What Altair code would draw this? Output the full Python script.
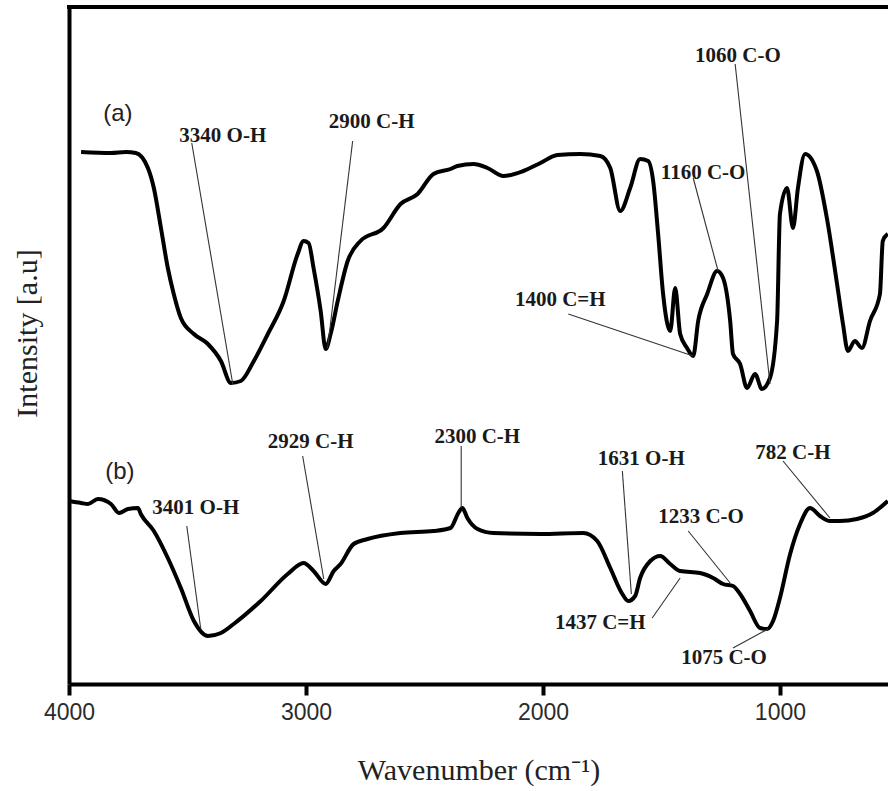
import altair as alt
import pandas as pd

# ---- spectrum (a) ----
wn_a = [3949, 3823, 3760, 3718, 3667, 3642, 3612, 3583, 3558, 3528, 3473, 3414, 3359, 3317,
        3275, 3220, 3161, 3094, 3035, 3010, 2989, 2968, 2938, 2917, 2896, 2866, 2824, 2770,
        2673, 2601, 2529, 2462, 2390, 2361, 2293, 2234, 2167, 2083, 2011, 1939, 1842, 1758,
        1716, 1674, 1632, 1590, 1556, 1535, 1514, 1493, 1463, 1442, 1421, 1392, 1366, 1345,
        1307, 1265, 1240, 1210, 1198, 1168, 1139, 1105, 1076, 1042, 1012, 1000, 970, 945,
        924, 894, 844, 802, 759, 734, 713, 684, 654, 620, 578, 566, 545]
int_a = [532, 531, 532, 531, 516, 496, 456, 416, 390, 366, 350, 340, 323, 301,
         303, 323, 350, 383, 430, 443, 441, 416, 373, 335, 350, 383, 423, 443,
         456, 480, 490, 510, 515, 518, 520, 516, 508, 513, 521, 529, 530, 528,
         516, 473, 496, 525, 523, 503, 450, 390, 353, 396, 350, 336, 328, 363,
         390, 413, 406, 363, 330, 320, 296, 310, 295, 306, 363, 470, 496, 456,
         496, 530, 513, 466, 400, 360, 333, 343, 336, 363, 390, 443, 450]

# ---- spectrum (b) ----
wn_b = [4000, 3949, 3920, 3878, 3823, 3789, 3751, 3709, 3697, 3642, 3583, 3528, 3473, 3414,
        3359, 3305, 3191, 3077, 3010, 2968, 2917, 2883, 2854, 2799, 2740, 2601, 2462, 2390,
        2357, 2340, 2319, 2276, 2209, 2011, 1830, 1771, 1716, 1665, 1640, 1611, 1590, 1547,
        1505, 1463, 1421, 1337, 1282, 1240, 1198, 1168, 1126, 1084, 1054, 1029, 1000, 957,
        915, 873, 831, 789, 747, 675, 608, 545]
int_b = [183, 181, 180, 185, 180, 171, 175, 176, 170, 153, 126, 96, 63, 48,
         51, 60, 83, 110, 121, 113, 100, 113, 120, 140, 145, 151, 153, 156,
         171, 176, 166, 155, 151, 150, 151, 143, 116, 90, 83, 88, 106, 123,
         128, 120, 113, 111, 106, 100, 98, 90, 73, 56, 55, 63, 86, 130,
         160, 176, 168, 163, 163, 165, 171, 183]

# ---- peak annotations ----
ann_text = ["3340 O-H", "2900 C-H", "1060 C-O", "1160 C-O", "1400 C=H",
            "3401 O-H", "2929 C-H", "2300 C-H", "1631 O-H", "782 C-H",
            "1233 C-O", "1437 C=H", "1075 C-O"]
ann_wn = [3351, 2723, 1177, 1324, 1927, 3465, 2980, 2277, 1585, 945, 1333, 1758, 1236]
ann_int = [548, 562, 628, 511, 384, 176, 242, 247, 225, 231, 167, 61, 26]

# leader lines (label end -> peak)
lead_wn1 = [3482, 2803, 1189, 1366, 1893, 3503, 3014, 2345, 1665, 987, 1387, 1539, 1198]
lead_int1 = [541, 543, 620, 506, 370, 158, 228, 238, 213, 223, 153, 66, 36]
lead_wn2 = [3309, 2909, 1042, 1261, 1366, 3444, 2925, 2345, 1627, 789, 1210, 1421, 1050]
lead_int2 = [300, 336, 300, 413, 328, 55, 105, 176, 90, 166, 101, 106, 55]

# panel tags
tag_text = ["(a)", "(b)"]
tag_wn = [3794, 3785]
tag_int = [570, 212]

xticks = [4000, 3000, 2000, 1000]

df = pd.concat([
    pd.DataFrame({"wn": wn_a, "I": int_a, "s": "a", "idx": range(len(wn_a))}),
    pd.DataFrame({"wn": wn_b, "I": int_b, "s": "b", "idx": range(len(wn_b))}),
])
ann = pd.DataFrame({"t": ann_text, "wn": ann_wn, "I": ann_int})
lead = pd.DataFrame({"w1": lead_wn1, "i1": lead_int1, "w2": lead_wn2, "i2": lead_int2})
tags = pd.DataFrame({"t": tag_text, "wn": tag_wn, "I": tag_int})

xs = alt.Scale(domain=[544, 4000], reverse=True, nice=False, zero=False)
ys = alt.Scale(domain=[0, 677], nice=False, zero=False)

xaxis = alt.Axis(values=xticks, format="d", grid=False, domainColor="black", domainWidth=4,
                 tickColor="black", tickWidth=4, tickSize=11, labelFont="Liberation Sans",
                 labelFontSize=23, labelColor="#2b2b2b", labelPadding=6, labelFlush=False,
                 labelOverlap=False,
                 title="Wavenumber (cm\u207b\u00b9)", titleFont="Liberation Serif",
                 titleFontSize=30, titleFontWeight="normal", titleColor="#222",
                 titleBaseline="alphabetic", titleY=95)
yaxis = alt.Axis(values=[], grid=False, domainColor="black", domainWidth=4, ticks=False,
                 labels=False, title="Intensity [a.u]", titleFont="Liberation Serif",
                 titleFontSize=30, titleFontWeight="normal", titleColor="#222",
                 titleAngle=-90, titleBaseline="alphabetic", titleAlign="center",
                 titleX=-33, titleY=326)

lines = alt.Chart(df).mark_line(color="black", strokeWidth=4, clip=True,
                                strokeJoin="round", interpolate="monotone").encode(
    x=alt.X("wn:Q", scale=xs, axis=xaxis),
    y=alt.Y("I:Q", scale=ys, axis=yaxis),
    detail="s:N",
    order="idx:Q",
)

leaders = alt.Chart(lead).mark_rule(color="#333", strokeWidth=1.1).encode(
    x=alt.X("w1:Q", scale=xs), y=alt.Y("i1:Q", scale=ys),
    x2="w2:Q", y2="i2:Q",
)

labels = alt.Chart(ann).mark_text(font="Liberation Serif", fontWeight="bold", fontSize=21,
                                  color="#1a1a1a", baseline="middle", align="center").encode(
    x=alt.X("wn:Q", scale=xs), y=alt.Y("I:Q", scale=ys), text="t:N",
)

tagmarks = alt.Chart(tags).mark_text(font="Liberation Sans", fontSize=24, color="#222",
                                     baseline="middle", align="center").encode(
    x=alt.X("wn:Q", scale=xs), y=alt.Y("I:Q", scale=ys), text="t:N",
)

topborder = alt.Chart(pd.DataFrame({"k": [0]})).mark_rule(color="black", strokeWidth=4).encode(
    x=alt.value(-2), x2=alt.value(819), y=alt.value(0),
)

chart = alt.layer(lines, leaders, labels, tagmarks, topborder).properties(
    width=819, height=677,
    autosize=alt.AutoSizeParams(type="none"),
    padding={"left": 69, "top": 7, "right": 0, "bottom": 107},
).configure_view(stroke=None).configure(background="white")

chart.save("out.html", embed_options={"renderer": "svg", "actions": False})
